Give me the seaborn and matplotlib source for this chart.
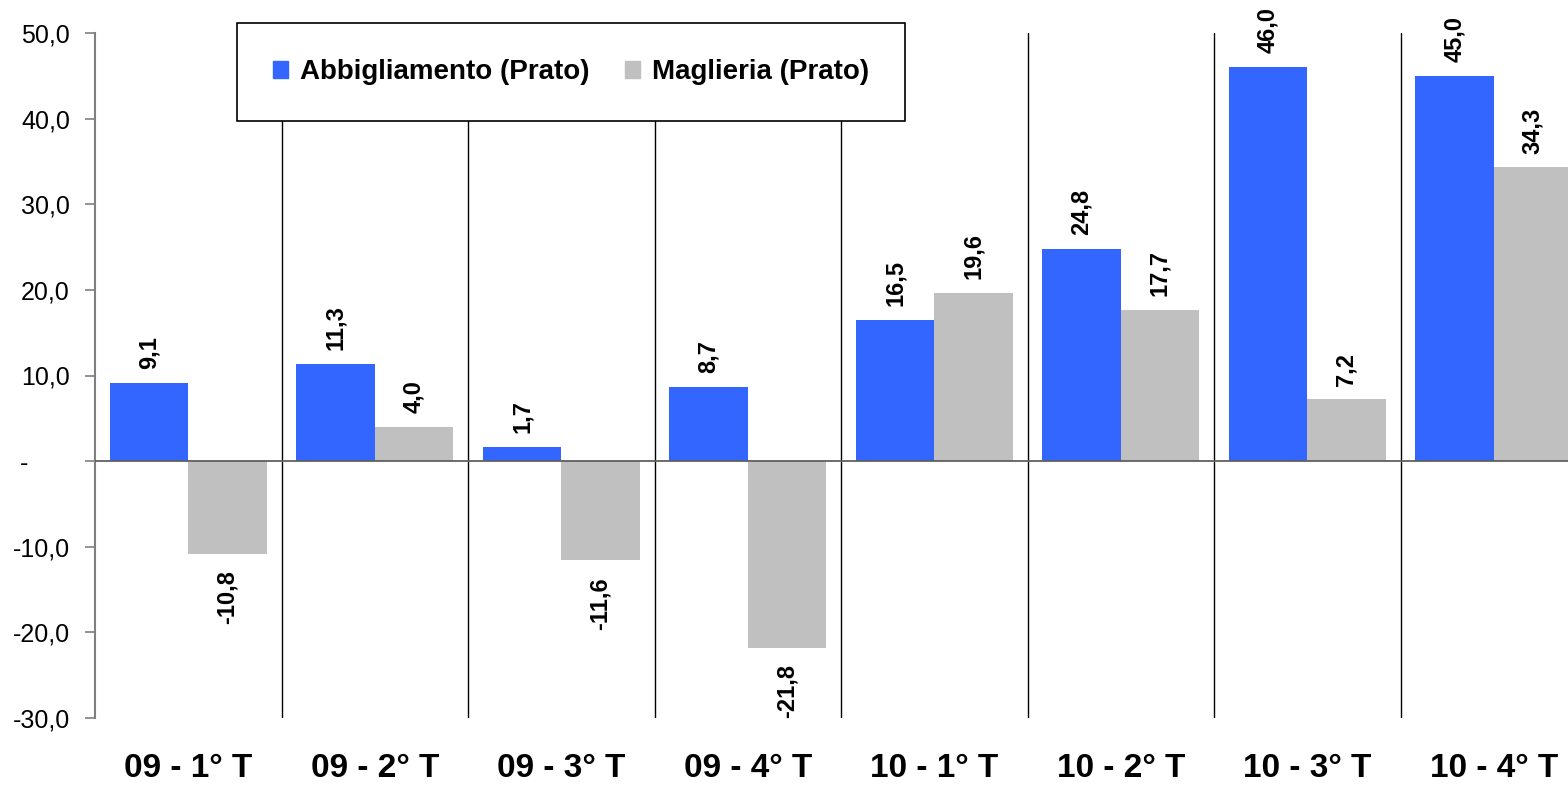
import seaborn as sns
import matplotlib.pyplot as plt
import matplotlib.ticker as mticker
import pandas as pd

# data
periods = ['09 - 1° T', '09 - 2° T', '09 - 3° T', '09 - 4° T',
           '10 - 1° T', '10 - 2° T', '10 - 3° T', '10 - 4° T']
abbigliamento = [9.1, 11.3, 1.7, 8.7, 16.5, 24.8, 46.0, 45.0]
maglieria = [-10.8, 4.0, -11.6, -21.8, 19.6, 17.7, 7.2, 34.3]
series = ['Abbigliamento (Prato)', 'Maglieria (Prato)']
colors = ['#3366FF', '#C0C0C0']

df = pd.DataFrame({
    'periodo': periods * 2,
    'valore': abbigliamento + maglieria,
    'serie': [series[0]] * len(periods) + [series[1]] * len(periods),
})

sns.set_style('white')
plt.rcParams['font.family'] = ['Liberation Sans', 'DejaVu Sans']
plt.rcParams['text.color'] = 'black'
plt.rcParams['xtick.color'] = 'black'
plt.rcParams['ytick.color'] = 'black'

fig = plt.figure(figsize=(15.68, 7.85), dpi=100)
W, H = 1568, 785
ax = fig.add_axes([95 / W, (H - 718) / H, (1587 - 95) / W, (718 - 33) / H])

sns.barplot(data=df, x='periodo', y='valore', hue='serie', order=periods,
            hue_order=series, palette=colors, saturation=1, width=0.84,
            edgecolor='none', ax=ax, legend=False)

ax.set_xlim(-0.5, 7.5)
ax.set_ylim(-30, 50)
ax.set_yticks(range(-30, 51, 10))


def fmt(v, pos=None):
    if abs(v) < 1e-9:
        return '-      '
    return f'{v:.1f}'.replace('.', ',')


ax.yaxis.set_major_formatter(mticker.FuncFormatter(fmt))
ax.tick_params(axis='y', labelsize=18, length=7, width=1.2, color='#808080',
               labelcolor='black', direction='out', pad=11, left=True)
ax.tick_params(axis='x', labelsize=24, length=0, pad=25, labelcolor='black')
for lbl in ax.get_xticklabels():
    lbl.set_fontweight('bold')
ax.set_xlabel('')
ax.set_ylabel('')

for s in ['top', 'right', 'bottom']:
    ax.spines[s].set_visible(False)
ax.spines['left'].set_color('#808080')
ax.spines['left'].set_linewidth(1.5)

ax.axhline(0, color='#606060', lw=1.3, zorder=3)
for b in range(1, len(periods)):
    ax.axvline(b - 0.5, color='black', lw=1, zorder=0)

# value labels
for cont in ax.containers:
    for bar in cont:
        v = bar.get_height()
        x = bar.get_x() + bar.get_width() / 2
        if v >= 0:
            ax.annotate(f'{v:.1f}'.replace('.', ','), (x, v), xytext=(0, 10),
                        textcoords='offset points', rotation=90, ha='center',
                        va='bottom', fontsize=17, fontweight='bold')
        else:
            ax.annotate(f'{v:.1f}'.replace('.', ','), (x, v), xytext=(0, -12),
                        textcoords='offset points', rotation=90, ha='center',
                        va='top', fontsize=17, fontweight='bold')

handles = [plt.Rectangle((0, 0), 1, 1, color=c) for c in colors]
leg = fig.legend(handles, series, loc='upper left',
                 bbox_to_anchor=(237 / W, 1 - 23 / H), ncol=2,
                 prop={'size': 20, 'weight': 'bold'}, frameon=True,
                 fancybox=False, edgecolor='black', borderpad=1.3,
                 handlelength=0.55, handleheight=0.55, handletextpad=0.4,
                 columnspacing=1.3, borderaxespad=0)
leg.get_frame().set_linewidth(1.2)
leg.get_frame().set_alpha(1)

fig.savefig('out.png', dpi=100)
